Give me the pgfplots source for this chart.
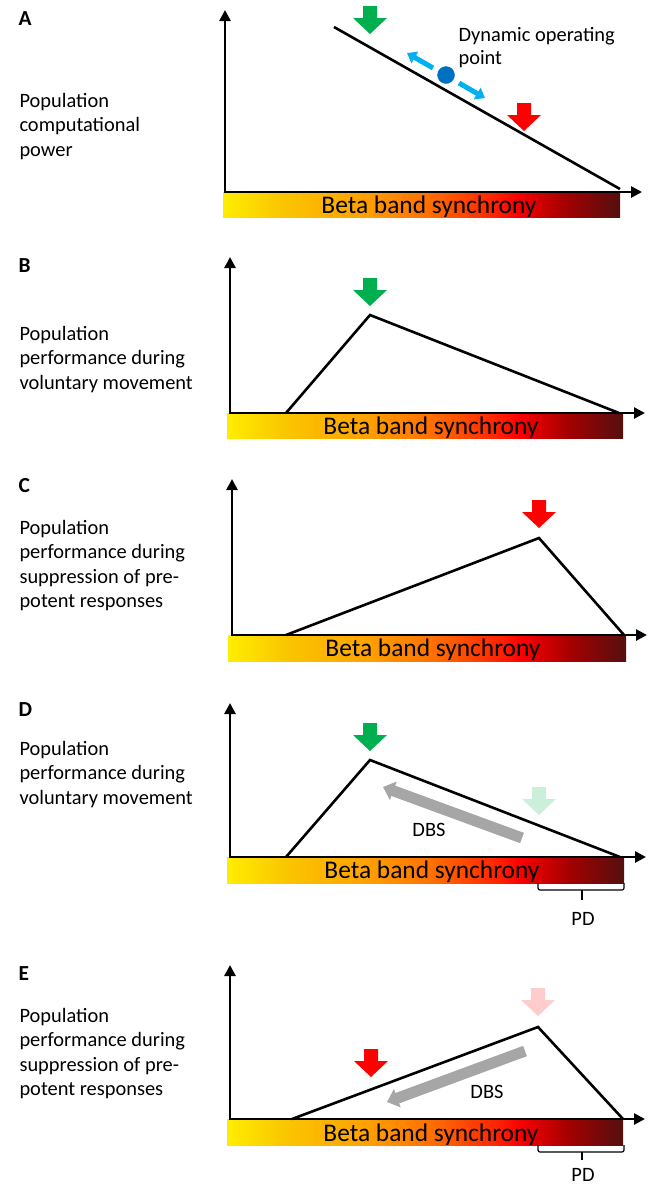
\documentclass[border=0pt]{standalone}
\usepackage{fontspec}
\setmainfont{Carlito}
\usepackage{pgfplots}
\pgfplotsset{compat=1.18}
\usetikzlibrary{arrows.meta}
\definecolor{cgreen}{RGB}{0,176,80}
\definecolor{fgreen}{RGB}{204,239,220}
\definecolor{fred}{RGB}{255,204,204}
\definecolor{cblue}{RGB}{0,112,192}
\definecolor{ccyan}{RGB}{0,176,240}
\definecolor{cgray}{RGB}{166,166,166}
\pgfdeclarehorizontalshading{beta}{100bp}{rgb(0bp)=(1,0.93,0); rgb(25bp)=(1,0.93,0); rgb(32.1bp)=(0.98,0.78,0); rgb(42.7bp)=(1,0.63,0); rgb(51bp)=(1,0.43,0); rgb(59.5bp)=(1,0.12,0); rgb(62bp)=(0.98,0,0); rgb(67.9bp)=(0.65,0,0); rgb(75bp)=(0.33,0.06,0.06); rgb(100bp)=(0.33,0.06,0.06)}
\newcommand{\lab}{\fontsize{20.5}{24.5}\selectfont}
\newcommand{\letr}{\fontsize{21.5}{25}\selectfont\bfseries}
\newcommand{\bbs}{\fontsize{25.5}{29}\selectfont}
\begin{document}
\begin{tikzpicture}
\useasboundingbox (0,0) rectangle (656bp,1187bp);
\begin{axis}[at={(0,0)}, anchor=south west, scale only axis,
  width=656bp, height=1187bp, xmin=0, xmax=656, ymin=0, ymax=1187,
  y dir=reverse, hide axis, clip=false, no markers,
  axln/.style={black, line width=2.6bp, {Triangle[width=11bp,length=11bp]}-{Triangle[width=11bp,length=11bp]}},
  curve/.style={black, line width=2.6bp},
  grad/.style={draw=none, shade, shading=beta},
  dbs/.style={cgray, line width=11bp, -{Triangle[width=19bp,length=11bp]}},
  brace/.style={black, line width=1.2bp, rounded corners=2bp}]

% ---------------- Panel A ----------------
\addplot[grad] coordinates {(223,192)(620,192)(620,217)(223,217)} -- cycle;
\addplot[axln] coordinates {(225,10)(225,192)(642,192)};
\addplot[curve] coordinates {(334,27)(620,189)};
\addplot[draw=none, fill=cgreen] coordinates {(363,6)(377,6)(377,18)(387,18)(370,34)(353,18)(363,18)} -- cycle;
\addplot[draw=none, fill=red] coordinates {(517,103)(531,103)(531,115)(541,115)(524,131)(507,115)(517,115)} -- cycle;
\addplot[ccyan, line width=5bp, -{Triangle[width=13bp,length=9bp]}] coordinates {(433,68)(407,53)};
\addplot[ccyan, line width=5bp, -{Triangle[width=13bp,length=9bp]}] coordinates {(459,83)(485,98)};
\addplot[only marks, mark=*, mark size=8.5bp, mark options={fill=cblue, draw=cblue}] coordinates {(446,75)};
\node[anchor=base west, font=\lab] at (axis cs:455,41) {Dynamic operating};
\node[anchor=base west, font=\lab] at (axis cs:455,64.5) {point};
\node[anchor=base, font=\bbs] at (axis cs:429,213) {Beta band synchrony};
\node[anchor=base west, font=\letr] at (axis cs:15,25) {A};
\node[anchor=base west, font=\lab] at (axis cs:16,107) {Population};
\node[anchor=base west, font=\lab] at (axis cs:16,131.5) {computational};
\node[anchor=base west, font=\lab] at (axis cs:16,156) {power};

% ---------------- Panel B ----------------
\addplot[grad] coordinates {(227,413)(623,413)(623,438)(227,438)} -- cycle;
\addplot[axln] coordinates {(230,257)(230,413)(645,413)};
\addplot[curve] coordinates {(286,413)(370,315)(619,413)};
\addplot[draw=none, fill=cgreen] coordinates {(363,278)(377,278)(377,290)(387,290)(370,306)(353,290)(363,290)} -- cycle;
\node[anchor=base, font=\bbs] at (axis cs:431,434) {Beta band synchrony};
\node[anchor=base west, font=\letr] at (axis cs:15,272) {B};
\node[anchor=base west, font=\lab] at (axis cs:16,340) {Population};
\node[anchor=base west, font=\lab] at (axis cs:16,364.5) {performance during};
\node[anchor=base west, font=\lab] at (axis cs:16,389) {voluntary movement};

% ---------------- Panel C ----------------
\addplot[grad] coordinates {(228,635)(626,635)(626,661)(228,661)} -- cycle;
\addplot[axln] coordinates {(232,479)(232,635)(647,635)};
\addplot[curve] coordinates {(286,635)(539,538)(624,635)};
\addplot[draw=none, fill=red] coordinates {(532,500)(546,500)(546,512)(556,512)(539,528)(522,512)(532,512)} -- cycle;
\node[anchor=base, font=\bbs] at (axis cs:433,656) {Beta band synchrony};
\node[anchor=base west, font=\letr] at (axis cs:15,492) {C};
\node[anchor=base west, font=\lab] at (axis cs:16,534) {Population};
\node[anchor=base west, font=\lab] at (axis cs:16,558.5) {performance during};
\node[anchor=base west, font=\lab] at (axis cs:16,583) {suppression of pre-};
\node[anchor=base west, font=\lab] at (axis cs:16,607.5) {potent responses};

% ---------------- Panel D ----------------
\addplot[grad] coordinates {(227,857)(624,857)(624,883)(227,883)} -- cycle;
\addplot[axln] coordinates {(230,703)(230,857)(646,857)};
\addplot[curve] coordinates {(286,857)(370,760)(620,857)};
\addplot[draw=none, fill=cgreen] coordinates {(363,723)(377,723)(377,735)(387,735)(370,751)(353,735)(363,735)} -- cycle;
\addplot[draw=none, fill=fgreen] coordinates {(532,787)(546,787)(546,799)(556,799)(539,815)(522,799)(532,799)} -- cycle;
\addplot[dbs] coordinates {(522,838)(383,787)};
\node[anchor=base, font=\lab] at (axis cs:429,836) {DBS};
\addplot[brace] coordinates {(538,883)(538,890)(624,890)(624,883)};
\addplot[brace] coordinates {(582,890)(582,900)};
\node[anchor=base, font=\lab] at (axis cs:583,925) {PD};
\node[anchor=base, font=\bbs] at (axis cs:432,878) {Beta band synchrony};
\node[anchor=base west, font=\letr] at (axis cs:15,716) {D};
\node[anchor=base west, font=\lab] at (axis cs:16,755) {Population};
\node[anchor=base west, font=\lab] at (axis cs:16,779.5) {performance during};
\node[anchor=base west, font=\lab] at (axis cs:16,804) {voluntary movement};

% ---------------- Panel E ----------------
\addplot[grad] coordinates {(227,1119)(623,1119)(623,1145)(227,1145)} -- cycle;
\addplot[axln] coordinates {(230,965)(230,1119)(645,1119)};
\addplot[curve] coordinates {(292,1119)(538,1027)(623,1119)};
\addplot[draw=none, fill=fred] coordinates {(531,988)(545,988)(545,1000)(555,1000)(538,1016)(521,1000)(531,1000)} -- cycle;
\addplot[draw=none, fill=red] coordinates {(364,1049)(378,1049)(378,1061)(388,1061)(371,1077)(354,1061)(364,1061)} -- cycle;
\addplot[dbs] coordinates {(525,1051)(387,1102)};
\node[anchor=base, font=\lab] at (axis cs:487,1098) {DBS};
\addplot[brace] coordinates {(538,1145)(538,1152)(624,1152)(624,1145)};
\addplot[brace] coordinates {(582,1152)(582,1160)};
\node[anchor=base, font=\lab] at (axis cs:583,1181) {PD};
\node[anchor=base, font=\bbs] at (axis cs:431,1141) {Beta band synchrony};
\node[anchor=base west, font=\letr] at (axis cs:15,980) {E};
\node[anchor=base west, font=\lab] at (axis cs:16,1022) {Population};
\node[anchor=base west, font=\lab] at (axis cs:16,1046.5) {performance during};
\node[anchor=base west, font=\lab] at (axis cs:16,1071) {suppression of pre-};
\node[anchor=base west, font=\lab] at (axis cs:16,1095.5) {potent responses};
\end{axis}
\end{tikzpicture}
\end{document}
